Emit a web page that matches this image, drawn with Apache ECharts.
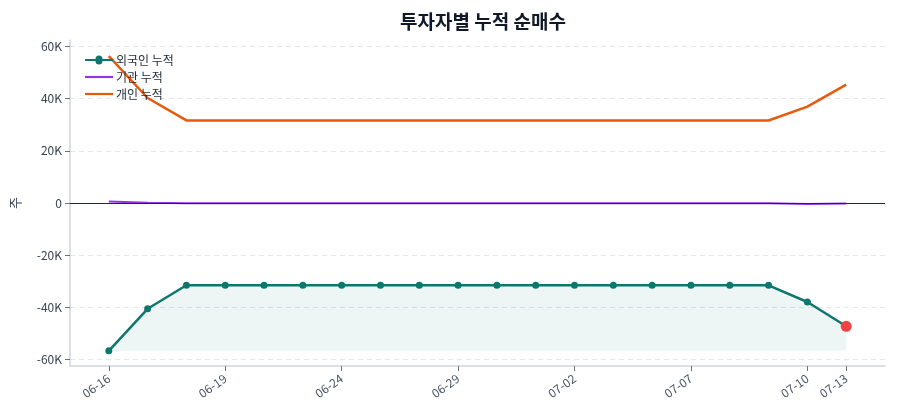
<!DOCTYPE html>
<html>
<head>
<meta charset="utf-8">
<script src="https://cdn.jsdelivr.net/npm/echarts@6/dist/echarts.min.js"></script>
<style>html,body{margin:0;padding:0;background:#fff;}#chart{width:900px;height:420px;}</style>
</head>
<body>
<div id="chart"></div>
<script>
const dates = ['06-16','06-17','06-18','06-19','06-22','06-23','06-24','06-25','06-26','06-29',
               '06-30','07-01','07-02','07-03','07-06','07-07','07-08','07-09','07-10','07-13'];
const foreign = [-56600,-40500,-31500,-31500,-31500,-31500,-31500,-31500,-31500,-31500,
                 -31500,-31500,-31500,-31500,-31500,-31500,-31500,-31500,-37900,-47200];
const institution = [600,100,-100,-100,-100,-100,-100,-100,-100,-100,
                     -100,-100,-100,-100,-100,-100,-100,-100,-400,-200];
const individual = [56200,40200,31600,31600,31600,31600,31600,31600,31600,31600,
                    31600,31600,31600,31600,31600,31600,31600,31600,36900,45300];
const labelIdx = [0,3,6,9,12,15,18,19];
const yTicks = [-60000,-40000,-20000,0,20000,40000,60000];
const names = ['외국인 누적','기관 누적','개인 누적'];

const font = "'Noto Sans CJK KR','Noto Sans',sans-serif";
const pairs = arr => arr.map((v,i)=>[i,v]);
const fmtK = v => v === 0 ? '0' : (v/1000) + 'K';
const last = foreign.length - 1;
const lineIcon = 'path://M0,4.4h28v2.2h-28z';

const chart = echarts.init(document.getElementById('chart'), null, {renderer:'canvas'});
chart.setOption({
  animation:false,
  textStyle:{fontFamily:font},
  title:{text:'투자자별 누적 순매수', left:478, textAlign:'center', top:7,
    textStyle:{fontFamily:font, fontSize:19, fontWeight:'bold', color:'#111827'}},
  legend:{orient:'vertical', left:80, top:49, itemGap:5, itemWidth:28, itemHeight:14,
    textStyle:{fontFamily:font, fontSize:12, color:'#1f2937', padding:[0,0,0,-2]},
    data:[{name:names[0], icon:'path://M0,5h10.5a3.5,3.5 0 1 1 7,0h10.5v2h-10.5a3.5,3.5 0 1 1 -7,0h-10.5z'},
          {name:names[1], icon:lineIcon},{name:names[2], icon:lineIcon}]},
  grid:{left:70, right:15, top:40, bottom:54},
  xAxis:{type:'value', min:-1, max:20,
    axisLine:{onZero:false, lineStyle:{color:'#d1d5db', width:1.5}},
    axisTick:{customValues:labelIdx, length:5, lineStyle:{color:'#6b7280'}},
    axisLabel:{customValues:labelIdx, rotate:35, margin:11, color:'#4b5563', fontSize:12, fontFamily:font,
      formatter:v=>dates[Math.round(v)] || ''},
    splitLine:{show:false}},
  yAxis:{type:'value', min:-62400, max:62400, name:'주', nameLocation:'middle', nameGap:48,
    nameTextStyle:{fontFamily:font, fontSize:13, color:'#374151'},
    axisLine:{show:true, onZero:false, lineStyle:{color:'#d1d5db', width:1.5}},
    axisTick:{show:true, customValues:yTicks, length:5, lineStyle:{color:'#6b7280'}},
    axisLabel:{customValues:yTicks, color:'#374151', fontSize:12, fontFamily:font, formatter:fmtK},
    splitLine:{show:true, lineStyle:{color:'#e5e7eb', type:[5,4]}}},
  series:[
    {name:names[0], type:'line', data:pairs(foreign), symbol:'circle', symbolSize:7,
      itemStyle:{color:'#0f766e'}, lineStyle:{width:2.5, color:'#0f766e'},
      areaStyle:{color:'rgba(15,118,110,0.1)', origin:Math.min(...foreign)}, z:3,
      markPoint:{symbol:'circle', symbolSize:11, itemStyle:{color:'#ef4444'}, label:{show:false},
        data:[{coord:[last, foreign[last]]}]}},
    {name:names[1], type:'line', data:pairs(institution), showSymbol:false, symbol:'none',
      itemStyle:{color:'#9333ea'}, lineStyle:{width:2, color:'#9333ea'}, z:2,
      markLine:{silent:true, symbol:'none', label:{show:false},
        lineStyle:{color:'#1f2937', width:1.2, type:'solid'}, data:[{yAxis:0}]}},
    {name:names[2], type:'line', data:pairs(individual), showSymbol:false, symbol:'none',
      itemStyle:{color:'#ea580c'}, lineStyle:{width:2.5, color:'#ea580c'}, z:2}
  ]
});
</script>
</body>
</html>
